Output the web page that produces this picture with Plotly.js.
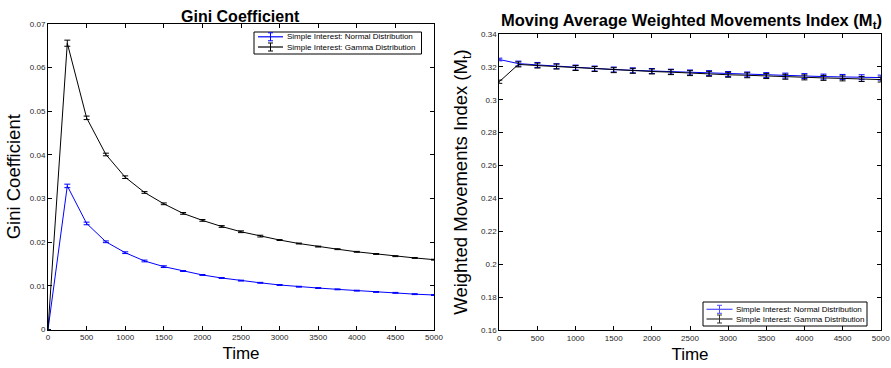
<!DOCTYPE html>
<html><head><meta charset="utf-8">
<script src="https://cdn.plot.ly/plotly-3.0.1.min.js"></script>
<style>body{margin:0;padding:0;background:#fff}#plot{width:891px;height:368px}</style>
</head><body><div id="plot"></div>
<script>
const time = [0,250,500,750,1000,1250,1500,1750,2000,2250,2500,2750,3000,3250,3500,3750,4000,4250,4500,4750,5000];
const giniNormal = [0,0.0329,0.0243,0.0201,0.0176,0.0157,0.0144,0.0134,0.0125,0.0118,0.0112,0.0107,0.0102,0.0098,0.0095,0.0092,0.0089,0.0086,0.0084,0.0081,0.0079];
const giniNormalErr = [0,0.0004,0.0003,0.0002,0.0002,0.0002,0.0002,0.0001,0.0001,0.0001,0.0001,0.0001,0.0001,0.0001,0.0001,0.0001,0.0001,0.0001,0.0001,0.0001,0.0001];
const giniGamma = [0,0.0656,0.0485,0.0401,0.0349,0.0314,0.0288,0.0266,0.0250,0.0236,0.0224,0.0214,0.0205,0.0197,0.0190,0.0184,0.0178,0.0173,0.0168,0.0164,0.0160];
const giniGammaErr = [0,0.0007,0.0004,0.0003,0.0003,0.0002,0.0002,0.0002,0.0002,0.0002,0.0002,0.0002,0.0001,0.0001,0.0001,0.0001,0.0001,0.0001,0.0001,0.0001,0.0001];
const mtNormal = [0.3245,0.3220,0.3212,0.3204,0.3196,0.3190,0.3184,0.3179,0.3175,0.3171,0.3166,0.3162,0.3157,0.3154,0.3150,0.3147,0.3144,0.3141,0.3139,0.3137,0.3135];
const mtNormalErr = [0.0008,0.0015,0.0015,0.0015,0.0015,0.0015,0.0015,0.0015,0.0015,0.0015,0.0015,0.0015,0.0015,0.0015,0.0015,0.0015,0.0015,0.0015,0.0015,0.0015,0.0015];
const mtGamma = [0.3110,0.3215,0.3208,0.3202,0.3193,0.3187,0.3180,0.3176,0.3172,0.3168,0.3162,0.3158,0.3152,0.3149,0.3144,0.3140,0.3136,0.3133,0.3130,0.3126,0.3123];
const mtGammaErr = [0.0010,0.0015,0.0015,0.0015,0.0015,0.0015,0.0015,0.0015,0.0015,0.0015,0.0015,0.0015,0.0015,0.0015,0.0015,0.0015,0.0015,0.0015,0.0015,0.0015,0.0015];
const legendNames = ['Simple Interest: Normal Distribution', 'Simple Interest: Gamma Distribution'];
const xTicks = [0,500,1000,1500,2000,2500,3000,3500,4000,4500,5000];

const W = 891, H = 368;
const FONT = 'Liberation Sans, Arial, Helvetica, sans-serif';
const px = v => v / W, py = v => 1 - v / H;

function tr(y, err, color, name, xa, ya) {
  return {x: time, y: y, type: 'scatter', mode: 'lines', name: name,
    xaxis: xa, yaxis: ya, showlegend: false,
    line: {color: color, width: 1},
    error_y: {type: 'data', array: err, visible: true, color: color, thickness: 1, width: 3}};
}
const data = [
  tr(giniNormal, giniNormalErr, '#0000ff', legendNames[0], 'x', 'y'),
  tr(giniGamma, giniGammaErr, '#000000', legendNames[1], 'x', 'y'),
  tr(mtNormal, mtNormalErr, '#0000ff', legendNames[0], 'x2', 'y2'),
  tr(mtGamma, mtGammaErr, '#000000', legendNames[1], 'x2', 'y2')
];

// custom compact legends (box, line glyph, error-bar glyph, text)
const shapes = [], annotations = [];
function legendBox(x0, y0, x1, y1, rows, lineX0, lineX1, textX, colors) {
  shapes.push({type: 'rect', xref: 'paper', yref: 'paper', x0: px(x0), x1: px(x1), y0: py(y0), y1: py(y1),
    line: {color: '#000', width: 1}, fillcolor: '#fff', layer: 'above'});
  rows.forEach((ry, i) => {
    const c = colors[i];
    const ex = (lineX0 + lineX1) / 2;
    shapes.push({type: 'line', xref: 'paper', yref: 'paper', x0: px(lineX0), x1: px(lineX1), y0: py(ry), y1: py(ry),
      line: {color: c, width: 1.2}, layer: 'above'});
    shapes.push({type: 'line', xref: 'paper', yref: 'paper', x0: px(ex), x1: px(ex), y0: py(ry - 4), y1: py(ry + 4),
      line: {color: c, width: 1}, layer: 'above'});
    [ry - 4, ry + 4].forEach(cy => shapes.push({type: 'line', xref: 'paper', yref: 'paper',
      x0: px(ex - 2.5), x1: px(ex + 2.5), y0: py(cy), y1: py(cy), line: {color: c, width: 1}, layer: 'above'}));
    annotations.push({text: legendNames[i], xref: 'paper', yref: 'paper', x: px(textX), y: py(ry),
      xanchor: 'left', yanchor: 'middle', showarrow: false, xshift: -2,
      font: {size: 8, color: '#000', family: FONT}});
  });
}
legendBox(254, 32, 421.5, 54, [36.8, 47], 258, 283, 287, ['#0000ff', '#000000']);
legendBox(703, 302, 867, 326, [309.3, 319], 706.5, 732.5, 736, ['#4d4dff', '#333333']);

annotations.push({text: '<b>Gini Coefficient</b>', xref: 'paper', yref: 'paper', x: px(240), y: py(16.5),
  xanchor: 'center', yanchor: 'middle', showarrow: false, font: {size: 16, color: '#000', family: FONT}});
annotations.push({text: '<b>Moving Average Weighted Movements Index (M<sub>t</sub>)</b>', xref: 'paper', yref: 'paper',
  x: px(691), y: py(21), xanchor: 'center', yanchor: 'middle', showarrow: false,
  font: {size: 16.5, color: '#000', family: FONT}});

const axBase = {showgrid: false, zeroline: false, showline: true, linecolor: '#000', linewidth: 1,
  mirror: 'ticks', ticks: 'inside', ticklen: 4, tickcolor: '#000',
  tickfont: {size: 8, color: '#262626', family: FONT}};
const xTitleFont = {size: 17, color: '#000', family: FONT};
const yTitleFont = {size: 18.5, color: '#000', family: FONT};
const layout = {
  width: W, height: H, margin: {l: 0, r: 0, t: 0, b: 0},
  paper_bgcolor: '#fff', plot_bgcolor: '#fff', showlegend: false,
  xaxis: Object.assign({}, axBase, {domain: [px(48), px(434)], range: [0, 5000], tickvals: xTicks,
    title: {text: 'Time', font: xTitleFont, standoff: 6}, anchor: 'y'}),
  yaxis: Object.assign({}, axBase, {domain: [py(329.5), py(24)], range: [0, 0.07], dtick: 0.01,
    title: {text: 'Gini Coefficient', font: yTitleFont, standoff: 4}, anchor: 'x'}),
  xaxis2: Object.assign({}, axBase, {domain: [px(499.3), px(880.7)], range: [0, 5000], tickvals: xTicks,
    title: {text: 'Time', font: xTitleFont, standoff: 6}, anchor: 'y2'}),
  yaxis2: Object.assign({}, axBase, {domain: [py(330), py(34)], range: [0.16, 0.34], dtick: 0.02,
    title: {text: 'Weighted Movements Index (M<sub>t</sub>)', font: yTitleFont, standoff: 8}, anchor: 'x2'}),
  shapes: shapes, annotations: annotations
};
Plotly.newPlot('plot', data, layout, {displayModeBar: false, staticPlot: true});
</script></body></html>
